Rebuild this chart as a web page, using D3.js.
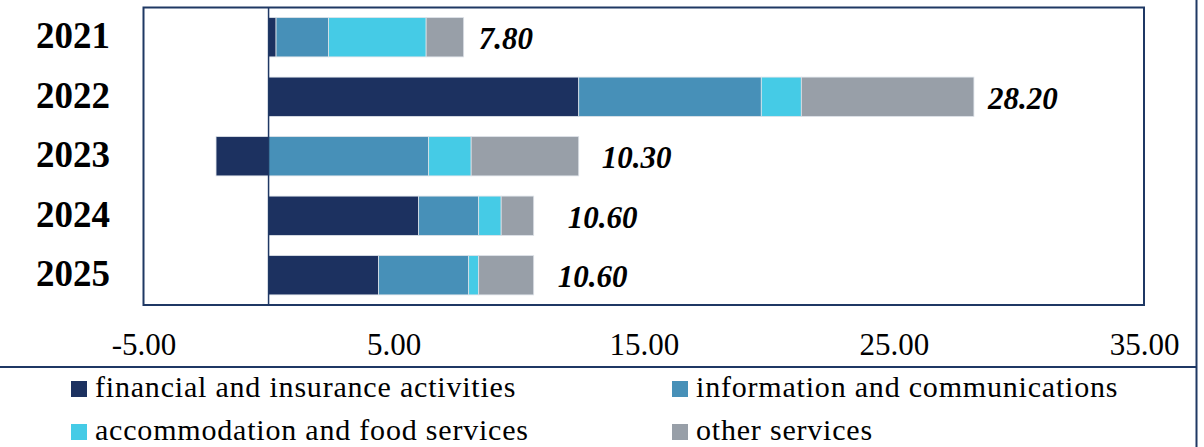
<!DOCTYPE html>
<html>
<head>
<meta charset="utf-8">
<script src="https://cdn.jsdelivr.net/npm/d3@7"></script>
<style>
    body { margin: 0; background: #fff; }
    .chart { font-family: "Liberation Serif", "Times New Roman", serif; }
</style>
</head>
<body>
<div id="chart"></div>
<script>
// data
const years = ['2021', '2022', '2023', '2024', '2025'];
const seriesNames = [
    'financial and insurance activities',
    'information and communications',
    'accommodation and food services',
    'other services',
];
const financial = [0.3, 12.4, -2.1, 6.0, 4.4];
const information = [2.1, 7.3, 6.4, 2.4, 3.6];
const accommodation = [3.9, 1.6, 1.7, 0.9, 0.4];
const otherServices = [1.5, 6.9, 4.3, 1.3, 2.2];
const totals = [7.80, 28.20, 10.30, 10.60, 10.60];
const tickValues = [-5, 5, 15, 25, 35];

const colors = ['#1c3160', '#4790b8', '#45cbe6', '#989fa8'];
// hand placed label offsets, like in the source chart
const labelNudge = [15, 14, 23, 34, 24];

const settings = {
    width: 1204, height: 447,
    plot: { left: 143.5, right: 1144, top: 7.5, bottom: 305 },
    frameColor: '#1f3864',
};

const svg = d3.select('#chart').append('svg')
    .classed('chart', true)
    .attr('width', settings.width).attr('height', settings.height);

const { plot } = settings;

const xScale = d3.scaleLinear().domain([-5, 35]).range([plot.left, plot.right]);
const yScale = d3.scaleBand().domain(years).range([plot.top, plot.bottom]).paddingInner(0.34).paddingOuter(0.17);

// build stacked segments (negatives stack to the left of zero)
const seriesValues = [financial, information, accommodation, otherServices];
const segments = [];
years.forEach((year, i) => {
    let pos = 0, neg = 0;
    seriesValues.forEach((vals, s) => {
        const v = vals[i];
        let x0, x1;
        if (v >= 0) { x0 = pos; x1 = pos + v; pos = x1; }
        else { x1 = neg; x0 = neg + v; neg = x0; }
        segments.push({ year, s, x0, x1 });
    });
});

// outer frame bits
svg.append('line')
    .attr('x1', 0).attr('x2', 1196.5).attr('y1', 367).attr('y2', 367)
    .attr('stroke', settings.frameColor).attr('stroke-width', 2);
svg.append('line')
    .attr('x1', 1196.5).attr('x2', 1196.5).attr('y1', 0).attr('y2', settings.height)
    .attr('stroke', settings.frameColor).attr('stroke-width', 2);

// plot frame
svg.append('rect')
    .attr('x', plot.left).attr('y', plot.top)
    .attr('width', plot.right - plot.left).attr('height', plot.bottom - plot.top)
    .attr('fill', 'none').attr('stroke', settings.frameColor).attr('stroke-width', 2);

// bars
svg.append('g').selectAll('rect').data(segments)
    .join('rect')
    .attr('x', d => xScale(d.x0))
    .attr('y', d => yScale(d.year))
    .attr('width', d => xScale(d.x1) - xScale(d.x0))
    .attr('height', yScale.bandwidth())
    .attr('fill', d => colors[d.s])
    .attr('stroke', '#dde2e8').attr('stroke-width', 0.8);

// zero line
svg.append('line')
    .attr('x1', xScale(0)).attr('x2', xScale(0))
    .attr('y1', plot.top).attr('y2', plot.bottom)
    .attr('stroke', settings.frameColor).attr('stroke-width', 1.5);

// year labels
svg.append('g').selectAll('text').data(years)
    .join('text')
    .attr('x', 110)
    .attr('y', d => yScale(d) + yScale.bandwidth() / 2 + 11)
    .attr('text-anchor', 'end')
    .attr('font-size', 37).attr('font-weight', 'bold')
    .text(d => d);

// total labels
svg.append('g').selectAll('text').data(years)
    .join('text')
    .attr('x', (d, i) => {
        const end = d3.sum(seriesValues, vals => Math.max(vals[i], 0));
        return xScale(end) + labelNudge[i];
    })
    .attr('y', d => yScale(d) + yScale.bandwidth() / 2 + 12)
    .attr('font-size', 31).attr('font-weight', 'bold').attr('font-style', 'italic')
    .text((d, i) => totals[i].toFixed(2));

// x axis
const xAxis = svg.append('g')
    .attr('transform', `translate(0,${plot.bottom})`)
    .call(d3.axisBottom(xScale).tickValues(tickValues).tickSize(0).tickFormat(d => d.toFixed(2)));
xAxis.select('.domain').remove();
xAxis.selectAll('text')
    .attr('font-family', '"Liberation Serif", serif')
    .attr('font-size', 31).attr('fill', '#000')
    .attr('y', 50).attr('dy', 0);

// legend
const legendPos = [[71, 397], [672, 397], [71, 440], [672, 440]];
const legend = svg.append('g').selectAll('g').data(seriesNames)
    .join('g')
    .attr('transform', (d, i) => `translate(${legendPos[i][0]},${legendPos[i][1]})`);
legend.append('rect')
    .attr('x', 0).attr('y', -16).attr('width', 16).attr('height', 16)
    .attr('fill', (d, i) => colors[i]);
legend.append('text')
    .attr('x', 24).attr('y', 0)
    .attr('font-size', 30).attr('letter-spacing', 0.8)
    .text(d => d);
</script>
</body>
</html>
